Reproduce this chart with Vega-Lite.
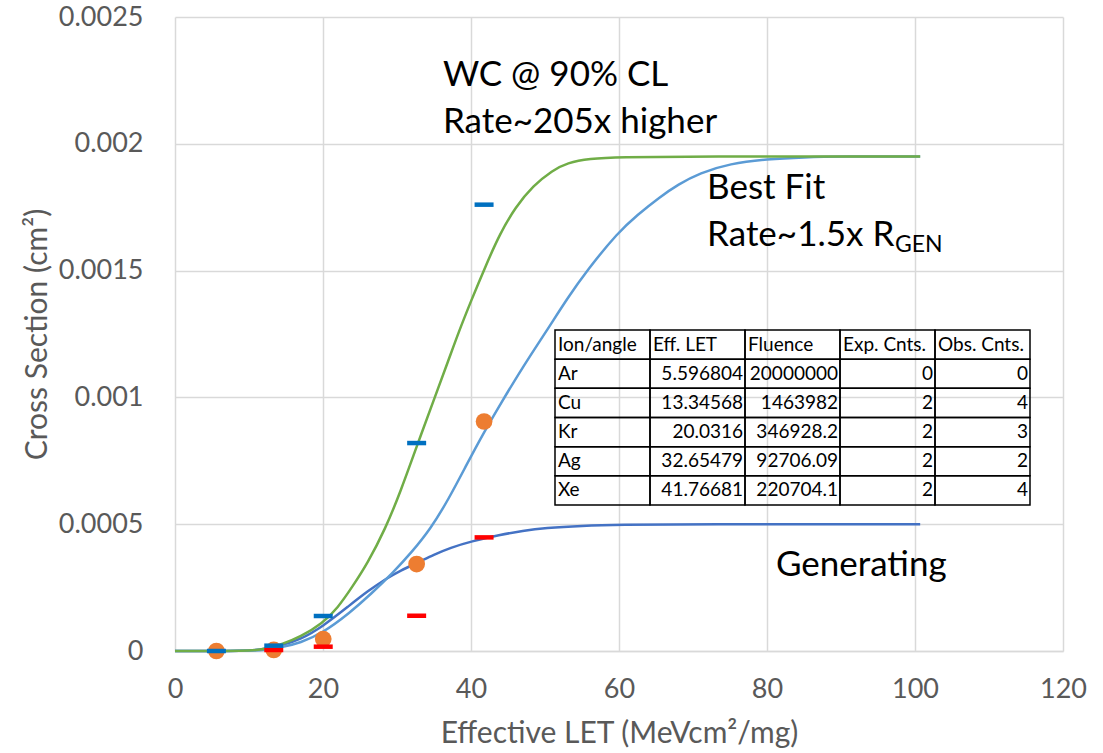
{
  "$schema": "https://vega.github.io/schema/vega-lite/v6.json",
  "width": 888,
  "height": 634,
  "autosize": {"type": "none"},
  "padding": {"left": 175, "top": 17, "right": 40, "bottom": 102},
  "background": "white",
  "config": {
    "font": "Lato",
    "view": {"stroke": null},
    "axis": {
      "labelFont": "Lato",
      "labelFontSize": 27,
      "labelColor": "#595959",
      "labelFlush": false,
      "titleFont": "Lato",
      "titleFontSize": 30,
      "titleFontWeight": "normal",
      "titleColor": "#595959",
      "ticks": false,
      "tickSize": 0,
      "gridColor": "#d9d9d9",
      "gridWidth": 1.5,
      "domainColor": "#d9d9d9",
      "domainWidth": 1.5
    }
  },
  "datasets": {
    "curves": [
      {"curve": "Generating", "let": 0, "sigma": 0},
      {"curve": "Generating", "let": 10, "sigma": 0},
      {"curve": "Generating", "let": 12, "sigma": 0.000007},
      {"curve": "Generating", "let": 14.6, "sigma": 0.000024},
      {"curve": "Generating", "let": 16.9, "sigma": 0.000045},
      {"curve": "Generating", "let": 19.9, "sigma": 0.000095},
      {"curve": "Generating", "let": 23.6, "sigma": 0.00018},
      {"curve": "Generating", "let": 26, "sigma": 0.000235},
      {"curve": "Generating", "let": 28.5, "sigma": 0.000285},
      {"curve": "Generating", "let": 30.5, "sigma": 0.000318},
      {"curve": "Generating", "let": 32.7, "sigma": 0.000347},
      {"curve": "Generating", "let": 35, "sigma": 0.00038},
      {"curve": "Generating", "let": 37.2, "sigma": 0.000407},
      {"curve": "Generating", "let": 40, "sigma": 0.000432},
      {"curve": "Generating", "let": 43.9, "sigma": 0.000458},
      {"curve": "Generating", "let": 47, "sigma": 0.000474},
      {"curve": "Generating", "let": 50, "sigma": 0.000485},
      {"curve": "Generating", "let": 55, "sigma": 0.000494},
      {"curve": "Generating", "let": 60, "sigma": 0.000498},
      {"curve": "Generating", "let": 70, "sigma": 0.0005},
      {"curve": "Generating", "let": 100.7, "sigma": 0.0005},
      {"curve": "Best Fit", "let": 0, "sigma": 0},
      {"curve": "Best Fit", "let": 10, "sigma": 0},
      {"curve": "Best Fit", "let": 12, "sigma": 0.000004},
      {"curve": "Best Fit", "let": 14.6, "sigma": 0.000016},
      {"curve": "Best Fit", "let": 16.9, "sigma": 0.000032},
      {"curve": "Best Fit", "let": 19.9, "sigma": 0.00007},
      {"curve": "Best Fit", "let": 23.6, "sigma": 0.00015},
      {"curve": "Best Fit", "let": 26.5, "sigma": 0.000225},
      {"curve": "Best Fit", "let": 29.5, "sigma": 0.00031},
      {"curve": "Best Fit", "let": 32, "sigma": 0.00039},
      {"curve": "Best Fit", "let": 34.5, "sigma": 0.00048},
      {"curve": "Best Fit", "let": 37, "sigma": 0.0006},
      {"curve": "Best Fit", "let": 39.5, "sigma": 0.00074},
      {"curve": "Best Fit", "let": 41.7, "sigma": 0.00086},
      {"curve": "Best Fit", "let": 43.9, "sigma": 0.00097},
      {"curve": "Best Fit", "let": 47, "sigma": 0.00112},
      {"curve": "Best Fit", "let": 50.3, "sigma": 0.001266},
      {"curve": "Best Fit", "let": 53, "sigma": 0.00139},
      {"curve": "Best Fit", "let": 55.7, "sigma": 0.001502},
      {"curve": "Best Fit", "let": 59.9, "sigma": 0.001652},
      {"curve": "Best Fit", "let": 62.5, "sigma": 0.00172},
      {"curve": "Best Fit", "let": 65.5, "sigma": 0.00179},
      {"curve": "Best Fit", "let": 68, "sigma": 0.00184},
      {"curve": "Best Fit", "let": 70.9, "sigma": 0.001885},
      {"curve": "Best Fit", "let": 75, "sigma": 0.001922},
      {"curve": "Best Fit", "let": 80, "sigma": 0.00194},
      {"curve": "Best Fit", "let": 85, "sigma": 0.001947},
      {"curve": "Best Fit", "let": 90, "sigma": 0.00195},
      {"curve": "Best Fit", "let": 100.7, "sigma": 0.00195},
      {"curve": "WC", "let": 0, "sigma": 0},
      {"curve": "WC", "let": 10, "sigma": 0},
      {"curve": "WC", "let": 12, "sigma": 0.000006},
      {"curve": "WC", "let": 14.6, "sigma": 0.000028},
      {"curve": "WC", "let": 16.9, "sigma": 0.000055},
      {"curve": "WC", "let": 19.9, "sigma": 0.000108},
      {"curve": "WC", "let": 22, "sigma": 0.00017},
      {"curve": "WC", "let": 24, "sigma": 0.000255},
      {"curve": "WC", "let": 26, "sigma": 0.000345},
      {"curve": "WC", "let": 28.4, "sigma": 0.00048},
      {"curve": "WC", "let": 30.5, "sigma": 0.00063},
      {"curve": "WC", "let": 32.7, "sigma": 0.00081},
      {"curve": "WC", "let": 35.1, "sigma": 0.001},
      {"curve": "WC", "let": 37, "sigma": 0.00115},
      {"curve": "WC", "let": 38.3, "sigma": 0.001255},
      {"curve": "WC", "let": 40, "sigma": 0.00138},
      {"curve": "WC", "let": 42, "sigma": 0.00152},
      {"curve": "WC", "let": 43.9, "sigma": 0.001645},
      {"curve": "WC", "let": 46, "sigma": 0.00175},
      {"curve": "WC", "let": 48.4, "sigma": 0.001835},
      {"curve": "WC", "let": 51, "sigma": 0.001895},
      {"curve": "WC", "let": 53, "sigma": 0.001925},
      {"curve": "WC", "let": 56, "sigma": 0.001942},
      {"curve": "WC", "let": 60, "sigma": 0.001948},
      {"curve": "WC", "let": 70, "sigma": 0.00195},
      {"curve": "WC", "let": 100.7, "sigma": 0.00195}
    ],
    "points": [
      {"ion": "Ar", "let": 5.596804, "sigma": 0, "upper": 0},
      {"ion": "Cu", "let": 13.34568, "sigma": 0.000004, "upper": 0.000021, "lower": 0.000004},
      {"ion": "Kr", "let": 20.0316, "sigma": 0.000047, "upper": 0.000138, "lower": 0.000017},
      {"ion": "Ag", "let": 32.65479, "sigma": 0.000343, "upper": 0.00082, "lower": 0.000139},
      {"ion": "Xe", "let": 41.76681, "sigma": 0.000905, "upper": 0.00176, "lower": 0.000448}
    ],
    "cells": [
      {"row": "header", "column": "Ion/angle", "text": "Ion/angle"},
      {"row": "header", "column": "Eff. LET", "text": "Eff. LET"},
      {"row": "header", "column": "Fluence", "text": "Fluence"},
      {"row": "header", "column": "Exp. Cnts.", "text": "Exp. Cnts."},
      {"row": "header", "column": "Obs. Cnts.", "text": "Obs. Cnts."},
      {"row": "Ar", "column": "Ion/angle", "text": "Ar"},
      {"row": "Ar", "column": "Eff. LET", "text": "5.596804"},
      {"row": "Ar", "column": "Fluence", "text": "20000000"},
      {"row": "Ar", "column": "Exp. Cnts.", "text": "0"},
      {"row": "Ar", "column": "Obs. Cnts.", "text": "0"},
      {"row": "Cu", "column": "Ion/angle", "text": "Cu"},
      {"row": "Cu", "column": "Eff. LET", "text": "13.34568"},
      {"row": "Cu", "column": "Fluence", "text": "1463982"},
      {"row": "Cu", "column": "Exp. Cnts.", "text": "2"},
      {"row": "Cu", "column": "Obs. Cnts.", "text": "4"},
      {"row": "Kr", "column": "Ion/angle", "text": "Kr"},
      {"row": "Kr", "column": "Eff. LET", "text": "20.0316"},
      {"row": "Kr", "column": "Fluence", "text": "346928.2"},
      {"row": "Kr", "column": "Exp. Cnts.", "text": "2"},
      {"row": "Kr", "column": "Obs. Cnts.", "text": "3"},
      {"row": "Ag", "column": "Ion/angle", "text": "Ag"},
      {"row": "Ag", "column": "Eff. LET", "text": "32.65479"},
      {"row": "Ag", "column": "Fluence", "text": "92706.09"},
      {"row": "Ag", "column": "Exp. Cnts.", "text": "2"},
      {"row": "Ag", "column": "Obs. Cnts.", "text": "2"},
      {"row": "Xe", "column": "Ion/angle", "text": "Xe"},
      {"row": "Xe", "column": "Eff. LET", "text": "41.76681"},
      {"row": "Xe", "column": "Fluence", "text": "220704.1"},
      {"row": "Xe", "column": "Exp. Cnts.", "text": "2"},
      {"row": "Xe", "column": "Obs. Cnts.", "text": "4"}
    ]
  },
  "layer": [
    {
      "layer": [
        {
          "data": {"name": "curves"},
          "transform": [{"filter": "datum.curve === 'Generating'"}],
          "mark": {"type": "line", "interpolate": "basis", "color": "#4472C4", "strokeWidth": 2.5},
          "encoding": {
            "x": {
              "field": "let", "type": "quantitative",
              "scale": {"domain": [0, 120], "nice": false, "zero": true},
              "axis": {"values": [0, 20, 40, 60, 80, 100, 120], "labelPadding": 25, "titlePadding": 16, "grid": true},
              "title": "Effective LET (MeVcm²/mg)"
            },
            "y": {
              "field": "sigma", "type": "quantitative",
              "scale": {"domain": [0, 0.0025], "nice": false},
              "axis": {"values": [0, 0.0005, 0.001, 0.0015, 0.002, 0.0025], "format": "~g", "labelPadding": 32, "titlePadding": 6, "grid": true, "domain": false},
              "title": "Cross Section (cm²)"
            }
          }
        },
        {
          "data": {"name": "curves"},
          "transform": [{"filter": "datum.curve === 'Best Fit'"}],
          "mark": {"type": "line", "interpolate": "basis", "color": "#5B9BD5", "strokeWidth": 2.5},
          "encoding": {
            "x": {"field": "let", "type": "quantitative"},
            "y": {"field": "sigma", "type": "quantitative"}
          }
        },
        {
          "data": {"name": "curves"},
          "transform": [{"filter": "datum.curve === 'WC'"}],
          "mark": {"type": "line", "interpolate": "basis", "color": "#70AD47", "strokeWidth": 2.5},
          "encoding": {
            "x": {"field": "let", "type": "quantitative"},
            "y": {"field": "sigma", "type": "quantitative"}
          }
        },
        {
          "data": {"name": "points"},
          "mark": {"type": "circle", "size": 280, "color": "#ED7D31", "opacity": 1},
          "encoding": {
            "x": {"field": "let", "type": "quantitative"},
            "y": {"field": "sigma", "type": "quantitative"}
          }
        },
        {
          "data": {"name": "points"},
          "transform": [{"filter": "isValid(datum.lower)"}],
          "mark": {"type": "tick", "orient": "horizontal", "size": 19, "thickness": 4.5, "color": "#FF0000", "opacity": 1},
          "encoding": {
            "x": {"field": "let", "type": "quantitative"},
            "y": {"field": "lower", "type": "quantitative"}
          }
        },
        {
          "data": {"name": "points"},
          "mark": {"type": "tick", "orient": "horizontal", "size": 19, "thickness": 4.5, "color": "#0070C0", "opacity": 1},
          "encoding": {
            "x": {"field": "let", "type": "quantitative"},
            "y": {"field": "upper", "type": "quantitative"}
          }
        },
        {
          "data": {"values": [{"label": "WC @ 90% CL"}]},
          "mark": {"type": "text", "align": "left", "baseline": "middle", "fontSize": 35, "color": "#000000"},
          "encoding": {
            "x": {"datum": 36.2, "type": "quantitative"},
            "y": {"datum": 0.002271, "type": "quantitative"},
            "text": {"field": "label"}
          }
        },
        {
          "data": {"values": [{"label": "Rate~205x higher"}]},
          "mark": {"type": "text", "align": "left", "baseline": "middle", "fontSize": 35, "color": "#000000"},
          "encoding": {
            "x": {"datum": 36.2, "type": "quantitative"},
            "y": {"datum": 0.002086, "type": "quantitative"},
            "text": {"field": "label"}
          }
        },
        {
          "data": {"values": [{"label": "Best Fit"}]},
          "mark": {"type": "text", "align": "left", "baseline": "middle", "fontSize": 35, "color": "#000000"},
          "encoding": {
            "x": {"datum": 71.9, "type": "quantitative"},
            "y": {"datum": 0.001826, "type": "quantitative"},
            "text": {"field": "label"}
          }
        },
        {
          "data": {"values": [{"label": "Rate~1.5x R"}]},
          "mark": {"type": "text", "align": "left", "baseline": "middle", "fontSize": 35, "color": "#000000"},
          "encoding": {
            "x": {"datum": 71.9, "type": "quantitative"},
            "y": {"datum": 0.00164, "type": "quantitative"},
            "text": {"field": "label"}
          }
        },
        {
          "data": {"values": [{"label": "GEN"}]},
          "mark": {"type": "text", "align": "left", "baseline": "middle", "fontSize": 23, "color": "#000000"},
          "encoding": {
            "x": {"datum": 97.3, "type": "quantitative"},
            "y": {"datum": 0.0016, "type": "quantitative"},
            "text": {"field": "label"}
          }
        },
        {
          "data": {"values": [{"label": "Generating"}]},
          "mark": {"type": "text", "align": "left", "baseline": "middle", "fontSize": 35, "color": "#000000"},
          "encoding": {
            "x": {"datum": 81.2, "type": "quantitative"},
            "y": {"datum": 0.000339, "type": "quantitative"},
            "text": {"field": "label"}
          }
        }
      ]
    },
    {
      "data": {"name": "cells"},
      "encoding": {
        "y": {
          "field": "row", "type": "nominal",
          "scale": {"domain": ["_t1", "_t2", "_t3", "_t4", "_t5", "_t6", "_t7", "_t8", "_t9", "_t10", "header", "Ar", "Cu", "Kr", "Ag", "Xe", "_b1", "_b2", "_b3", "_b4", "_b5"], "paddingInner": 0, "paddingOuter": 0.37, "align": 0.99},
          "axis": null
        }
      },
      "layer": [
        {
          "mark": {"type": "rect", "filled": false, "stroke": "#000000", "strokeWidth": 1.5},
          "encoding": {
            "x": {
              "field": "column", "type": "nominal",
              "scale": {"domain": ["_l1", "_l2", "_l3", "_l4", "Ion/angle", "Eff. LET", "Fluence", "Exp. Cnts.", "Obs. Cnts."], "paddingInner": 0, "paddingOuter": 0.1737, "align": 0},
              "axis": null
            }
          }
        },
        {
          "transform": [{"filter": "datum.column === 'Ion/angle' || datum.row === 'header'"}],
          "mark": {"type": "text", "align": "left", "baseline": "middle", "dx": 3, "fontSize": 19, "color": "#000000"},
          "encoding": {
            "x": {"field": "column", "type": "nominal", "bandPosition": 0, "axis": null},
            "text": {"field": "text"}
          }
        },
        {
          "transform": [{"filter": "datum.column !== 'Ion/angle' && datum.row !== 'header'"}],
          "mark": {"type": "text", "align": "right", "baseline": "middle", "dx": -2, "fontSize": 19, "color": "#000000"},
          "encoding": {
            "x": {"field": "column", "type": "nominal", "bandPosition": 1, "axis": null},
            "text": {"field": "text"}
          }
        }
      ]
    }
  ],
  "resolve": {"scale": {"x": "independent", "y": "independent"}}
}
